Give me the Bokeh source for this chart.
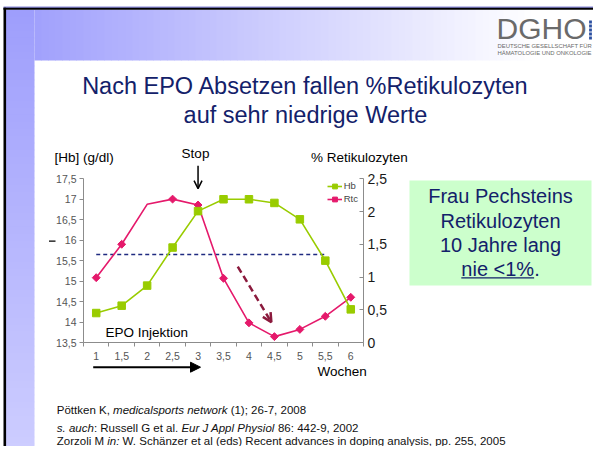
import numpy as np
from bokeh.plotting import figure
from bokeh.models import (Range1d, LinearAxis, FixedTicker, CustomJSTickFormatter,
                          ColumnDataSource, CDSView, IndexFilter, Legend, LegendItem,
                          Arrow, OpenHead, NormalHead, Label)
from bokeh.embed import file_html
from bokeh.resources import INLINE

# ---------------- data ----------------
weeks = [1, 1.5, 2, 2.5, 3, 3.5, 4, 4.5, 5, 5.5, 6]
hb_g_dl = [14.22, 14.40, 14.89, 15.82, 16.71, 17.00, 17.00, 16.91, 16.51, 15.50, 14.31]
rtc_pct = [0.99, 1.50, 2.11, 2.19, 2.10, 0.98, 0.30, 0.09, 0.20, 0.40, 0.69]
rtc_no_marker = [2]
hb_ticks = [13.5, 14, 14.5, 15, 15.5, 16, 16.5, 17, 17.5]
rtc_ticks = [0, 0.5, 1, 1.5, 2, 2.5]
week_edges = [0.75, 1.25, 1.75, 2.25, 2.75, 3.25, 3.75, 4.25, 4.75, 5.25, 5.75, 6.25]
threshold_weeks = [1, 5.5]
threshold_hb = 15.65
stop_week = 3
stop_hb = [17.82, 17.26]
trend_weeks = [3.78, 4.44]
trend_rtc = [1.16, 0.31]
epo_week, epo_hb = 1.18, 13.75

title_lines = ["Nach EPO Absetzen fallen %Retikulozyten", "auf sehr niedrige Werte"]
box_lines = ["Frau Pechsteins", "Retikulozyten", "10 Jahre lang"]
box_under = "nie <1%"
ref_lines = [
    [("Pöttken K, ", False), ("medicalsports network", True), (" (1); 26-7, 2008", False)],
    [("s. auch", True), (": Russell G et al. ", False), ("Eur J Appl Physiol", True), (" 86: 442-9, 2002", False)],
    [("Zorzoli M ", False), ("in:", True), (" W. Schänzer et al (eds) Recent advances in doping analysis, pp. 255, 2005", False)],
]

# ---------------- styles ----------------
FONT = "Liberation Sans"
NAVY = "#13216a"
GREEN = "#99cc00"
PINK = "#e5196b"
DARKRED = "#8b1a3d"
AXIS_GRAY = "#8c8c8c"

WID = {' ': 278, ',': 278, '.': 278, ':': 278, ';': 278, '-': 333, '(': 333, ')': 333,
       '%': 889, '<': 584, '[': 278, ']': 278, '/': 278}
for c, w in zip("ABCDEFGHIJKLMNOPQRSTUVWXYZ",
                [667, 667, 722, 722, 667, 611, 778, 722, 278, 500, 667, 556, 833, 722, 778, 667,
                 778, 722, 667, 611, 722, 667, 944, 667, 667, 611]):
    WID[c] = w
for c, w in zip("abcdefghijklmnopqrstuvwxyz",
                [556, 556, 500, 556, 556, 278, 556, 556, 222, 222, 500, 222, 833, 556, 556, 556,
                 556, 333, 500, 278, 556, 500, 722, 500, 500, 500]):
    WID[c] = w
WID.update({'ä': 556, 'ö': 556, 'ü': 556, 'Ä': 667, 'Ö': 778, 'Ü': 722})


def tw(s, size):
    return sum(WID.get(c, 556) for c in s) * size / 1000.0


# ---------------- geometry (canvas pixels) ----------------
W, H = 593, 446
FL, FR, FT, FB = 83, 363, 178.3, 342     # plot area of the chart

kx = (week_edges[-1] - week_edges[0]) / (FR - FL)
ky = (hb_ticks[-1] - hb_ticks[0]) / (FB - FT)
kr = (rtc_ticks[-1] - rtc_ticks[0]) / (FB - FT)
x_rng = Range1d(week_edges[0] - FL * kx, week_edges[-1] + (W - FR) * kx)
y_rng = Range1d(hb_ticks[0] - (H - FB) * ky, hb_ticks[-1] + FT * ky)
r_rng = Range1d(rtc_ticks[0] - (H - FB) * kr, rtc_ticks[-1] + FT * kr)

p = figure(width=W, height=H, x_range=x_rng, y_range=y_rng, output_backend="svg",
           toolbar_location=None, x_axis_type=None, y_axis_type=None,
           min_border=0, min_border_left=0, min_border_right=0, min_border_top=0,
           min_border_bottom=0)
p.outline_line_color = None
p.background_fill_color = "white"
p.border_fill_color = "white"
p.extra_y_ranges = {"rtc": r_rng, "px": Range1d(H, 0)}
p.extra_x_ranges = {"px": Range1d(0, W)}

# ---------------- slide decoration (canvas pixels) ----------------
rects = dict(left=[], right=[], top=[], bottom=[], color=[])


def rect(l, r, t, b, color):
    rects["left"].append(l)
    rects["right"].append(r)
    rects["top"].append(t)
    rects["bottom"].append(b)
    rects["color"].append(color)


def label(x, y, text, size, color="black", align="left", style="normal"):
    p.add_layout(Label(x=x, y=y, x_range_name="px", y_range_name="px", text=text,
                       text_font=FONT, text_font_size="%spx" % size, text_color=color,
                       text_align=align, text_baseline="middle", text_font_style=style))


def band_rgb(y):
    t = min(max((y - 10) / 450.0, 0.0), 1.0)
    return np.array([158 + 48 * t, 158 + 48 * t, 252 + 3 * t])


def hexc(rgb):
    return "#%02x%02x%02x" % tuple(int(round(v)) for v in rgb)


ys = np.arange(9.3, H + 7, 7.0)
for a, b in zip(ys[:-1], ys[1:]):
    rect(5.5, 34, a, b + 0.5, hexc(band_rgb((a + b) / 2)))
xs = np.arange(34, 545, 7.0)
c0 = band_rgb(35)
for a, b in zip(xs[:-1], xs[1:]):
    t = min(max(((a + b) / 2 - 34) / 500.0, 0), 1)
    rect(a, b + 0.5, 9.3, 60, hexc(c0 + (np.array([255, 255, 255]) - c0) * t))
rect(3, W, 6, 7.4, "#8a8ad8")
rect(3, W, 7.3, 9.3, "#000000")
rect(3, 5.6, 7.3, H, "#000000")
for r in range(5):
    for c in range(5):
        rect(588.6 + 4 * c, 591.4 + 4 * c, 20.1 + 4 * r, 22.9 + 4 * r,
             "#c4173c" if (r < 2 and c >= 2) else "#2a4fa0")
rect(409, 591, 180, 285, "#ccffcc")
rect(48.5, 55, 240.1, 241.3, "#000000")

p.quad(left="left", right="right", top="top", bottom="bottom", fill_color="color",
       line_color=None, source=ColumnDataSource(rects), x_range_name="px",
       y_range_name="px", level="underlay")

# ---------------- texts ----------------
label(496, 28, "DGHO", 30, color="#6a6a6a")
label(497, 45.2, "DEUTSCHE GESELLSCHAFT FÜR", 5.9, color="#6a6a6a")
label(497, 52.4, "HÄMATOLOGIE UND ONKOLOGIE", 5.9, color="#6a6a6a")
label(305, 85.5, title_lines[0], 23.5, color=NAVY, align="center")
label(305, 114.5, title_lines[1], 23.5, color=NAVY, align="center")
label(54, 157, "[Hb] (g/dl)", 13.5)
label(195, 153, "Stop", 13.5, align="center")
label(310.5, 157.3, "% Retikulozyten", 13.5)
label(317, 371, "Wochen", 13.5)

for i, s in enumerate(box_lines):
    label(500, 195.7 + 24.3 * i, s, 20, color=NAVY, align="center")
last = box_under + "."
lx = 500 - tw(last, 20) / 2
label(lx, 195.7 + 24.3 * 3, last, 20, color=NAVY)
p.segment(x0=[lx], y0=[277.4], x1=[lx + tw(box_under, 20)], y1=[277.4], line_color=NAVY,
          line_width=1.4, x_range_name="px", y_range_name="px")

REF_SIZE = 11.5
for line, yc in zip(ref_lines, [409, 427.5, 440]):
    cx = 56.3
    for s, ital in line:
        lead = len(s) - len(s.lstrip(' '))
        label(cx + tw(' ' * lead, REF_SIZE), yc, s.strip(' '), REF_SIZE, color="#111111",
              style="italic" if ital else "normal")
        cx += tw(s, REF_SIZE)

p.add_layout(Arrow(end=NormalHead(size=10, fill_color="black", line_color="black", line_width=1),
                   x_start=92.7, y_start=366.7, x_end=200, y_end=366.7,
                   x_range_name="px", y_range_name="px", line_width=2, line_color="black"))

# ---------------- axes (fixed at the plot-area edges) ----------------
fmt = CustomJSTickFormatter(code="return String(tick).replace('.', ',');")

xax = LinearAxis(ticker=FixedTicker(ticks=weeks, minor_ticks=week_edges), formatter=fmt,
                 bounds=(week_edges[0], week_edges[-1]), fixed_location=hb_ticks[0])
xax.major_tick_line_color = None
xax.major_tick_out = 4
xax.major_tick_in = 0
xax.minor_tick_in = 0
xax.minor_tick_out = 4
xax.minor_tick_line_color = AXIS_GRAY
xax.axis_line_color = AXIS_GRAY
xax.major_label_standoff = 5
xax.major_label_text_font = FONT
xax.major_label_text_font_size = "10.5px"
xax.major_label_text_color = "#555555"
p.add_layout(xax, "below")

yl = LinearAxis(ticker=FixedTicker(ticks=hb_ticks), formatter=fmt,
                bounds=(hb_ticks[0], hb_ticks[-1]), fixed_location=week_edges[0])
yl.major_tick_out = 4
yl.major_tick_in = 0
yl.major_tick_line_color = AXIS_GRAY
yl.axis_line_color = AXIS_GRAY
yl.major_label_standoff = 3
yl.major_label_text_font = FONT
yl.major_label_text_font_size = "10.5px"
yl.major_label_text_color = "#555555"
p.add_layout(yl, "left")

yr = LinearAxis(y_range_name="rtc", ticker=FixedTicker(ticks=rtc_ticks), formatter=fmt,
                bounds=(rtc_ticks[0], rtc_ticks[-1]), fixed_location=week_edges[-1])
yr.major_tick_out = 0
yr.major_tick_in = 4
yr.major_tick_line_color = AXIS_GRAY
yr.axis_line_color = AXIS_GRAY
yr.major_label_standoff = 4
yr.major_label_text_font = FONT
yr.major_label_text_font_size = "14px"
yr.major_label_text_color = "#1a1a1a"
p.add_layout(yr, "right")

# ---------------- series ----------------
src = ColumnDataSource(dict(week=weeks, hb=hb_g_dl, rtc=rtc_pct))
marked = [i for i in range(len(weeks)) if i not in rtc_no_marker]

p.line(threshold_weeks, [threshold_hb, threshold_hb], line_color="#1f2a80",
       line_width=1.6, line_dash="4 3")
rtc_line = p.line("week", "rtc", source=src, y_range_name="rtc", line_color=PINK,
                  line_width=1.6)
rtc_pts = p.scatter("week", "rtc", source=src, view=CDSView(filter=IndexFilter(marked)),
                    y_range_name="rtc", marker="square", angle=np.pi / 4, size=5.6,
                    fill_color=PINK, line_color=PINK)
hb_line = p.line("week", "hb", source=src, line_color=GREEN, line_width=1.6)
hb_pts = p.scatter("week", "hb", source=src, marker="square", size=7.5,
                   fill_color=GREEN, line_color=GREEN)

legend = Legend(items=[LegendItem(label="Hb", renderers=[hb_line, hb_pts]),
                       LegendItem(label="Rtc", renderers=[rtc_line, rtc_pts])],
                location=(326.7, H - 204.7))
legend.label_text_font = FONT
legend.label_text_font_size = "9.5px"
legend.label_text_color = "#444444"
legend.glyph_width = 15
legend.glyph_height = 12
legend.label_height = 12
legend.label_width = 10
legend.label_standoff = 2
legend.spacing = 1
legend.padding = 0
legend.margin = 0
legend.border_line_color = None
legend.background_fill_alpha = 0
p.add_layout(legend)

p.add_layout(Arrow(end=OpenHead(size=8, line_width=1.5, line_color="black"),
                   x_start=stop_week, y_start=stop_hb[0], x_end=stop_week, y_end=stop_hb[1],
                   line_width=1.5, line_color="black"))
p.add_layout(Arrow(end=OpenHead(size=9, line_width=2.5, line_color=DARKRED),
                   x_start=trend_weeks[0], y_start=trend_rtc[0],
                   x_end=trend_weeks[1], y_end=trend_rtc[1], y_range_name="rtc",
                   line_width=2.5, line_color=DARKRED, line_dash="7 4"))
p.add_layout(Label(x=epo_week, y=epo_hb, text="EPO Injektion", text_font=FONT,
                   text_font_size="13.5px", text_baseline="middle", text_align="left",
                   text_color="black"))

open("out.html", "w").write(file_html(p, INLINE))
